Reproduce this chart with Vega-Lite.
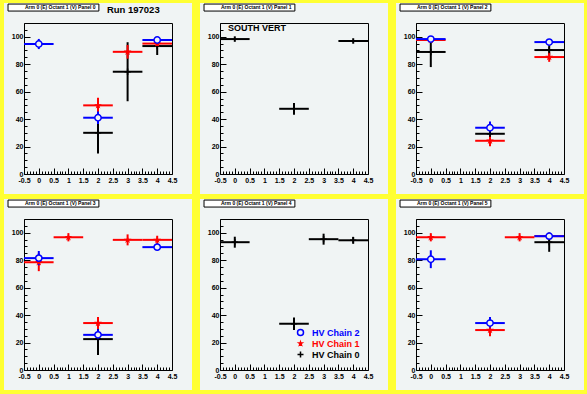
{
  "$schema": "https://vega.github.io/schema/vega-lite/v6.json",
  "background": "#ffff33",
  "padding": {"left": -13, "top": -17, "right": 5, "bottom": 10},
  "datasets": {
    "pts": [
      {"panel": 0, "series": "HV Chain 0", "x": 2, "xlo": 1.5, "xhi": 2.5, "y": 30, "ylo": 15, "yhi": 45},
      {"panel": 0, "series": "HV Chain 0", "x": 3, "xlo": 2.5, "xhi": 3.5, "y": 74.5, "ylo": 53, "yhi": 96},
      {"panel": 0, "series": "HV Chain 0", "x": 4, "xlo": 3.5, "xhi": 4.5, "y": 93.2, "ylo": 86.7, "yhi": 99.7},
      {"panel": 0, "series": "HV Chain 1", "x": 2, "xlo": 1.5, "xhi": 2.5, "y": 50, "ylo": 45, "yhi": 55.5},
      {"panel": 0, "series": "HV Chain 1", "x": 3, "xlo": 2.5, "xhi": 3.5, "y": 89, "ylo": 84, "yhi": 94},
      {"panel": 0, "series": "HV Chain 1", "x": 4, "xlo": 3.5, "xhi": 4.5, "y": 95, "ylo": 93.5, "yhi": 96.5},
      {"panel": 0, "series": "HV Chain 2", "x": 0, "xlo": -0.5, "xhi": 0.5, "y": 94.7, "ylo": 91, "yhi": 98.4},
      {"panel": 0, "series": "HV Chain 2", "x": 2, "xlo": 1.5, "xhi": 2.5, "y": 41, "ylo": 36.5, "yhi": 45.5},
      {"panel": 0, "series": "HV Chain 2", "x": 4, "xlo": 3.5, "xhi": 4.5, "y": 97.6, "ylo": 95.9, "yhi": 99.3},

      {"panel": 1, "series": "HV Chain 0", "x": 0, "xlo": -0.5, "xhi": 0.5, "y": 98.3, "ylo": 96.3, "yhi": 100.3},
      {"panel": 1, "series": "HV Chain 0", "x": 2, "xlo": 1.5, "xhi": 2.5, "y": 47.5, "ylo": 43.2, "yhi": 51.8},
      {"panel": 1, "series": "HV Chain 0", "x": 4, "xlo": 3.5, "xhi": 4.5, "y": 96.9, "ylo": 94.9, "yhi": 98.9},

      {"panel": 2, "series": "HV Chain 0", "x": 0, "xlo": -0.5, "xhi": 0.5, "y": 88.9, "ylo": 77.9, "yhi": 99.9},
      {"panel": 2, "series": "HV Chain 0", "x": 2, "xlo": 1.5, "xhi": 2.5, "y": 29.3, "ylo": 27, "yhi": 31.6},
      {"panel": 2, "series": "HV Chain 0", "x": 4, "xlo": 3.5, "xhi": 4.5, "y": 90.3, "ylo": 86.3, "yhi": 94.3},
      {"panel": 2, "series": "HV Chain 1", "x": 0, "xlo": -0.5, "xhi": 0.5, "y": 97.6, "ylo": 96.1, "yhi": 99.1},
      {"panel": 2, "series": "HV Chain 1", "x": 2, "xlo": 1.5, "xhi": 2.5, "y": 24.2, "ylo": 20.2, "yhi": 28.2},
      {"panel": 2, "series": "HV Chain 1", "x": 4, "xlo": 3.5, "xhi": 4.5, "y": 85.2, "ylo": 81.7, "yhi": 88.7},
      {"panel": 2, "series": "HV Chain 2", "x": 0, "xlo": -0.5, "xhi": 0.5, "y": 98.3, "ylo": 96.3, "yhi": 100.3},
      {"panel": 2, "series": "HV Chain 2", "x": 2, "xlo": 1.5, "xhi": 2.5, "y": 33.7, "ylo": 29.1, "yhi": 38.3},
      {"panel": 2, "series": "HV Chain 2", "x": 4, "xlo": 3.5, "xhi": 4.5, "y": 96.1, "ylo": 94.1, "yhi": 98.1},

      {"panel": 3, "series": "HV Chain 0", "x": 2, "xlo": 1.5, "xhi": 2.5, "y": 22.5, "ylo": 11, "yhi": 34},
      {"panel": 3, "series": "HV Chain 1", "x": 0, "xlo": -0.5, "xhi": 0.5, "y": 78.5, "ylo": 72, "yhi": 85},
      {"panel": 3, "series": "HV Chain 1", "x": 1, "xlo": 0.5, "xhi": 1.5, "y": 96.7, "ylo": 93.7, "yhi": 99.7},
      {"panel": 3, "series": "HV Chain 1", "x": 2, "xlo": 1.5, "xhi": 2.5, "y": 34.2, "ylo": 29.7, "yhi": 38.7},
      {"panel": 3, "series": "HV Chain 1", "x": 3, "xlo": 2.5, "xhi": 3.5, "y": 94.8, "ylo": 90.8, "yhi": 98.8},
      {"panel": 3, "series": "HV Chain 1", "x": 4, "xlo": 3.5, "xhi": 4.5, "y": 94.8, "ylo": 91.8, "yhi": 97.8},
      {"panel": 3, "series": "HV Chain 2", "x": 0, "xlo": -0.5, "xhi": 0.5, "y": 81.5, "ylo": 76.3, "yhi": 86.7},
      {"panel": 3, "series": "HV Chain 2", "x": 2, "xlo": 1.5, "xhi": 2.5, "y": 25.6, "ylo": 21.6, "yhi": 29.6},
      {"panel": 3, "series": "HV Chain 2", "x": 4, "xlo": 3.5, "xhi": 4.5, "y": 89.5, "ylo": 87.5, "yhi": 91.5},

      {"panel": 4, "series": "HV Chain 0", "x": 0, "xlo": -0.5, "xhi": 0.5, "y": 93.1, "ylo": 89.1, "yhi": 97.1},
      {"panel": 4, "series": "HV Chain 0", "x": 2, "xlo": 1.5, "xhi": 2.5, "y": 33.7, "ylo": 29.2, "yhi": 38.2},
      {"panel": 4, "series": "HV Chain 0", "x": 3, "xlo": 2.5, "xhi": 3.5, "y": 95.3, "ylo": 91.3, "yhi": 99.3},
      {"panel": 4, "series": "HV Chain 0", "x": 4, "xlo": 3.5, "xhi": 4.5, "y": 94.5, "ylo": 92, "yhi": 97},

      {"panel": 5, "series": "HV Chain 0", "x": 4, "xlo": 3.5, "xhi": 4.5, "y": 93.1, "ylo": 86.1, "yhi": 100.1},
      {"panel": 5, "series": "HV Chain 1", "x": 0, "xlo": -0.5, "xhi": 0.5, "y": 96.7, "ylo": 93.7, "yhi": 99.7},
      {"panel": 5, "series": "HV Chain 1", "x": 2, "xlo": 1.5, "xhi": 2.5, "y": 29.1, "ylo": 24.6, "yhi": 33.6},
      {"panel": 5, "series": "HV Chain 1", "x": 3, "xlo": 2.5, "xhi": 3.5, "y": 96.7, "ylo": 93.7, "yhi": 99.7},
      {"panel": 5, "series": "HV Chain 1", "x": 4, "xlo": 3.5, "xhi": 4.5, "y": 97.5, "ylo": 96, "yhi": 99},
      {"panel": 5, "series": "HV Chain 2", "x": 0, "xlo": -0.5, "xhi": 0.5, "y": 80.7, "ylo": 74.2, "yhi": 87.2},
      {"panel": 5, "series": "HV Chain 2", "x": 2, "xlo": 1.5, "xhi": 2.5, "y": 34.2, "ylo": 29.7, "yhi": 38.7},
      {"panel": 5, "series": "HV Chain 2", "x": 4, "xlo": 3.5, "xhi": 4.5, "y": 97.5, "ylo": 96, "yhi": 99}
    ]
  },
  "columns": 3,
  "spacing": {"row": 45, "column": 48},
  "bounds": "flush",
  "resolve": {"legend": {"color": "independent", "shape": "independent"}},
  "concat": [
    {
      "width": 148, "height": 151,
      "data": {"name": "pts"},
      "layer": [
        {"transform": [{"filter": "datum.panel == 0"}], "mark": {"type": "rule", "strokeWidth": 2},
         "encoding": {
          "x": {"field": "xlo", "type": "quantitative", "scale": {"domain": [-0.5, 4.5], "nice": false, "zero": false}, "axis": {"orient": "bottom", "title": null, "values": [-0.5,-0.4,-0.3,-0.2,-0.1,0,0.1,0.2,0.3,0.4,0.5,0.6,0.7,0.8,0.9,1,1.1,1.2,1.3,1.4,1.5,1.6,1.7,1.8,1.9,2,2.1,2.2,2.3,2.4,2.5,2.6,2.7,2.8,2.9,3,3.1,3.2,3.3,3.4,3.5,3.6,3.7,3.8,3.9,4,4.1,4.2,4.3,4.4,4.5], "labelExpr": "abs(datum.value*2-round(datum.value*2))<0.01 ? toString(round(datum.value*10)/10) : ''", "labelOverlap": false, "labelFlush": false, "tickSize": {"condition": {"test": "abs(datum.value*2-round(datum.value*2))<0.01", "value": -6}, "value": -3}, "labelPadding": 8}},
          "x2": {"field": "xhi"},
          "y": {"field": "y", "type": "quantitative", "scale": {"domain": [0, 110], "nice": false, "zero": false}, "axis": {"orient": "left", "title": null, "values": [0,5,10,15,20,25,30,35,40,45,50,55,60,65,70,75,80,85,90,95,100,105,110], "labelExpr": "datum.value % 20 == 0 && datum.value <= 100 ? toString(datum.value) : ''", "labelOverlap": false, "labelFlush": false, "tickSize": {"condition": {"test": "datum.value % 20 == 0", "value": -6}, "value": -3}, "labelPadding": 7}},
          "color": {"field": "series", "type": "nominal", "scale": {"domain": ["HV Chain 2", "HV Chain 1", "HV Chain 0"], "range": ["#0000ff", "#ff0000", "#000000"]}, "legend": null}
         }},
        {"transform": [{"filter": "datum.panel == 0"}], "mark": {"type": "rule", "strokeWidth": 2},
         "encoding": {
          "x": {"field": "x", "type": "quantitative", "axis": {"orient": "top", "title": null, "ticks": false, "labels": false}},
          "y": {"field": "ylo", "type": "quantitative", "axis": {"orient": "right", "title": null, "ticks": false, "labels": false}},
          "y2": {"field": "yhi"},
          "color": {"field": "series", "type": "nominal", "legend": null}
         }},
        {"transform": [{"filter": "datum.panel == 0"}], "mark": {"type": "point", "filled": false, "fill": "#f0f4f4", "size": 40, "strokeWidth": 1.5, "opacity": 1},
         "encoding": {
          "x": {"field": "x", "type": "quantitative", "axis": null},
          "y": {"field": "y", "type": "quantitative", "axis": null},
          "color": {"field": "series", "type": "nominal", "legend": null},
          "shape": {"field": "series", "type": "nominal", "scale": {"domain": ["HV Chain 2", "HV Chain 1", "HV Chain 0"], "range": ["circle", "M0,-0.5L0.11,-0.15L0.48,-0.15L0.18,0.06L0.29,0.4L0,0.19L-0.29,0.4L-0.18,0.06L-0.48,-0.15L-0.11,-0.15Z", "M-1,0H1M0,-1V1"]}, "legend": null}
         }},
        {"data": {"values": [{"label": "Arm 0 (E) Octant 1 (V) Panel 0"}]}, "mark": {"type": "rect", "fill": "#ffffff", "stroke": "#000000", "strokeWidth": 1},
         "encoding": {"x": {"datum": -1.04, "type": "quantitative", "axis": null}, "x2": {"datum": 2.03}, "y": {"datum": 123.8, "type": "quantitative", "axis": null}, "y2": {"datum": 118.7}}},
        {"data": {"values": [{"label": "Arm 0 (E) Octant 1 (V) Panel 0"}]}, "mark": {"type": "text", "align": "left", "baseline": "middle", "fontSize": 5, "fontWeight": "bold", "font": "Liberation Sans", "color": "#000000"},
         "encoding": {"x": {"datum": -0.466, "type": "quantitative", "axis": null}, "y": {"datum": 121.3, "type": "quantitative", "axis": null}, "text": {"field": "label"}}},
        {"data": {"values": [{"label": "Run 197023"}]}, "mark": {"type": "text", "align": "left", "baseline": "middle", "fontSize": 9.5, "fontWeight": "bold", "font": "Liberation Sans", "color": "#000000"},
         "encoding": {
          "x": {"datum": 2.3, "type": "quantitative", "axis": null},
          "y": {"datum": 119.5, "type": "quantitative", "axis": null},
          "text": {"field": "label"}
         }}
      ],
      "resolve": {"axis": {"x": "independent", "y": "independent"}}
    },
    {
      "width": 148, "height": 151,
      "data": {"name": "pts"},
      "layer": [
        {"transform": [{"filter": "datum.panel == 1"}], "mark": {"type": "rule", "strokeWidth": 2},
         "encoding": {
          "x": {"field": "xlo", "type": "quantitative", "scale": {"domain": [-0.5, 4.5], "nice": false, "zero": false}, "axis": {"orient": "bottom", "title": null, "values": [-0.5,-0.4,-0.3,-0.2,-0.1,0,0.1,0.2,0.3,0.4,0.5,0.6,0.7,0.8,0.9,1,1.1,1.2,1.3,1.4,1.5,1.6,1.7,1.8,1.9,2,2.1,2.2,2.3,2.4,2.5,2.6,2.7,2.8,2.9,3,3.1,3.2,3.3,3.4,3.5,3.6,3.7,3.8,3.9,4,4.1,4.2,4.3,4.4,4.5], "labelExpr": "abs(datum.value*2-round(datum.value*2))<0.01 ? toString(round(datum.value*10)/10) : ''", "labelOverlap": false, "labelFlush": false, "tickSize": {"condition": {"test": "abs(datum.value*2-round(datum.value*2))<0.01", "value": -6}, "value": -3}, "labelPadding": 8}},
          "x2": {"field": "xhi"},
          "y": {"field": "y", "type": "quantitative", "scale": {"domain": [0, 110], "nice": false, "zero": false}, "axis": {"orient": "left", "title": null, "values": [0,5,10,15,20,25,30,35,40,45,50,55,60,65,70,75,80,85,90,95,100,105,110], "labelExpr": "datum.value % 20 == 0 && datum.value <= 100 ? toString(datum.value) : ''", "labelOverlap": false, "labelFlush": false, "tickSize": {"condition": {"test": "datum.value % 20 == 0", "value": -6}, "value": -3}, "labelPadding": 7}},
          "color": {"field": "series", "type": "nominal", "scale": {"domain": ["HV Chain 2", "HV Chain 1", "HV Chain 0"], "range": ["#0000ff", "#ff0000", "#000000"]}, "legend": null}
         }},
        {"transform": [{"filter": "datum.panel == 1"}], "mark": {"type": "rule", "strokeWidth": 2},
         "encoding": {
          "x": {"field": "x", "type": "quantitative", "axis": {"orient": "top", "title": null, "ticks": false, "labels": false}},
          "y": {"field": "ylo", "type": "quantitative", "axis": {"orient": "right", "title": null, "ticks": false, "labels": false}},
          "y2": {"field": "yhi"},
          "color": {"field": "series", "type": "nominal", "legend": null}
         }},
        {"data": {"values": [{"label": "Arm 0 (E) Octant 1 (V) Panel 1"}]}, "mark": {"type": "rect", "fill": "#ffffff", "stroke": "#000000", "strokeWidth": 1},
         "encoding": {"x": {"datum": -1.04, "type": "quantitative", "axis": null}, "x2": {"datum": 2.03}, "y": {"datum": 123.8, "type": "quantitative", "axis": null}, "y2": {"datum": 118.7}}},
        {"data": {"values": [{"label": "Arm 0 (E) Octant 1 (V) Panel 1"}]}, "mark": {"type": "text", "align": "left", "baseline": "middle", "fontSize": 5, "fontWeight": "bold", "font": "Liberation Sans", "color": "#000000"},
         "encoding": {"x": {"datum": -0.466, "type": "quantitative", "axis": null}, "y": {"datum": 121.3, "type": "quantitative", "axis": null}, "text": {"field": "label"}}},
        {"data": {"values": [{"label": "SOUTH VERT"}]}, "mark": {"type": "text", "align": "left", "baseline": "middle", "fontSize": 9, "fontWeight": "bold", "font": "Liberation Sans", "color": "#000000"},
         "encoding": {
          "x": {"datum": -0.23, "type": "quantitative", "axis": null},
          "y": {"datum": 106, "type": "quantitative", "axis": null},
          "text": {"field": "label"}
         }}
      ],
      "resolve": {"axis": {"x": "independent", "y": "independent"}}
    },
    {
      "width": 148, "height": 151,
      "data": {"name": "pts"},
      "layer": [
        {"transform": [{"filter": "datum.panel == 2"}], "mark": {"type": "rule", "strokeWidth": 2},
         "encoding": {
          "x": {"field": "xlo", "type": "quantitative", "scale": {"domain": [-0.5, 4.5], "nice": false, "zero": false}, "axis": {"orient": "bottom", "title": null, "values": [-0.5,-0.4,-0.3,-0.2,-0.1,0,0.1,0.2,0.3,0.4,0.5,0.6,0.7,0.8,0.9,1,1.1,1.2,1.3,1.4,1.5,1.6,1.7,1.8,1.9,2,2.1,2.2,2.3,2.4,2.5,2.6,2.7,2.8,2.9,3,3.1,3.2,3.3,3.4,3.5,3.6,3.7,3.8,3.9,4,4.1,4.2,4.3,4.4,4.5], "labelExpr": "abs(datum.value*2-round(datum.value*2))<0.01 ? toString(round(datum.value*10)/10) : ''", "labelOverlap": false, "labelFlush": false, "tickSize": {"condition": {"test": "abs(datum.value*2-round(datum.value*2))<0.01", "value": -6}, "value": -3}, "labelPadding": 8}},
          "x2": {"field": "xhi"},
          "y": {"field": "y", "type": "quantitative", "scale": {"domain": [0, 110], "nice": false, "zero": false}, "axis": {"orient": "left", "title": null, "values": [0,5,10,15,20,25,30,35,40,45,50,55,60,65,70,75,80,85,90,95,100,105,110], "labelExpr": "datum.value % 20 == 0 && datum.value <= 100 ? toString(datum.value) : ''", "labelOverlap": false, "labelFlush": false, "tickSize": {"condition": {"test": "datum.value % 20 == 0", "value": -6}, "value": -3}, "labelPadding": 7}},
          "color": {"field": "series", "type": "nominal", "scale": {"domain": ["HV Chain 2", "HV Chain 1", "HV Chain 0"], "range": ["#0000ff", "#ff0000", "#000000"]}, "legend": null}
         }},
        {"transform": [{"filter": "datum.panel == 2"}], "mark": {"type": "rule", "strokeWidth": 2},
         "encoding": {
          "x": {"field": "x", "type": "quantitative", "axis": {"orient": "top", "title": null, "ticks": false, "labels": false}},
          "y": {"field": "ylo", "type": "quantitative", "axis": {"orient": "right", "title": null, "ticks": false, "labels": false}},
          "y2": {"field": "yhi"},
          "color": {"field": "series", "type": "nominal", "legend": null}
         }},
        {"transform": [{"filter": "datum.panel == 2"}], "mark": {"type": "point", "filled": false, "fill": "#f0f4f4", "size": 40, "strokeWidth": 1.5, "opacity": 1},
         "encoding": {
          "x": {"field": "x", "type": "quantitative", "axis": null},
          "y": {"field": "y", "type": "quantitative", "axis": null},
          "color": {"field": "series", "type": "nominal", "legend": null},
          "shape": {"field": "series", "type": "nominal", "scale": {"domain": ["HV Chain 2", "HV Chain 1", "HV Chain 0"], "range": ["circle", "M0,-0.5L0.11,-0.15L0.48,-0.15L0.18,0.06L0.29,0.4L0,0.19L-0.29,0.4L-0.18,0.06L-0.48,-0.15L-0.11,-0.15Z", "M-1,0H1M0,-1V1"]}, "legend": null}
         }},
        {"data": {"values": [{"label": "Arm 0 (E) Octant 1 (V) Panel 2"}]}, "mark": {"type": "rect", "fill": "#ffffff", "stroke": "#000000", "strokeWidth": 1},
         "encoding": {"x": {"datum": -1.04, "type": "quantitative", "axis": null}, "x2": {"datum": 2.03}, "y": {"datum": 123.8, "type": "quantitative", "axis": null}, "y2": {"datum": 118.7}}},
        {"data": {"values": [{"label": "Arm 0 (E) Octant 1 (V) Panel 2"}]}, "mark": {"type": "text", "align": "left", "baseline": "middle", "fontSize": 5, "fontWeight": "bold", "font": "Liberation Sans", "color": "#000000"},
         "encoding": {"x": {"datum": -0.466, "type": "quantitative", "axis": null}, "y": {"datum": 121.3, "type": "quantitative", "axis": null}, "text": {"field": "label"}}}
      ],
      "resolve": {"axis": {"x": "independent", "y": "independent"}}
    },
    {
      "width": 148, "height": 151,
      "data": {"name": "pts"},
      "layer": [
        {"transform": [{"filter": "datum.panel == 3"}], "mark": {"type": "rule", "strokeWidth": 2},
         "encoding": {
          "x": {"field": "xlo", "type": "quantitative", "scale": {"domain": [-0.5, 4.5], "nice": false, "zero": false}, "axis": {"orient": "bottom", "title": null, "values": [-0.5,-0.4,-0.3,-0.2,-0.1,0,0.1,0.2,0.3,0.4,0.5,0.6,0.7,0.8,0.9,1,1.1,1.2,1.3,1.4,1.5,1.6,1.7,1.8,1.9,2,2.1,2.2,2.3,2.4,2.5,2.6,2.7,2.8,2.9,3,3.1,3.2,3.3,3.4,3.5,3.6,3.7,3.8,3.9,4,4.1,4.2,4.3,4.4,4.5], "labelExpr": "abs(datum.value*2-round(datum.value*2))<0.01 ? toString(round(datum.value*10)/10) : ''", "labelOverlap": false, "labelFlush": false, "tickSize": {"condition": {"test": "abs(datum.value*2-round(datum.value*2))<0.01", "value": -6}, "value": -3}, "labelPadding": 8}},
          "x2": {"field": "xhi"},
          "y": {"field": "y", "type": "quantitative", "scale": {"domain": [0, 110], "nice": false, "zero": false}, "axis": {"orient": "left", "title": null, "values": [0,5,10,15,20,25,30,35,40,45,50,55,60,65,70,75,80,85,90,95,100,105,110], "labelExpr": "datum.value % 20 == 0 && datum.value <= 100 ? toString(datum.value) : ''", "labelOverlap": false, "labelFlush": false, "tickSize": {"condition": {"test": "datum.value % 20 == 0", "value": -6}, "value": -3}, "labelPadding": 7}},
          "color": {"field": "series", "type": "nominal", "scale": {"domain": ["HV Chain 2", "HV Chain 1", "HV Chain 0"], "range": ["#0000ff", "#ff0000", "#000000"]}, "legend": null}
         }},
        {"transform": [{"filter": "datum.panel == 3"}], "mark": {"type": "rule", "strokeWidth": 2},
         "encoding": {
          "x": {"field": "x", "type": "quantitative", "axis": {"orient": "top", "title": null, "ticks": false, "labels": false}},
          "y": {"field": "ylo", "type": "quantitative", "axis": {"orient": "right", "title": null, "ticks": false, "labels": false}},
          "y2": {"field": "yhi"},
          "color": {"field": "series", "type": "nominal", "legend": null}
         }},
        {"transform": [{"filter": "datum.panel == 3"}], "mark": {"type": "point", "filled": false, "fill": "#f0f4f4", "size": 40, "strokeWidth": 1.5, "opacity": 1},
         "encoding": {
          "x": {"field": "x", "type": "quantitative", "axis": null},
          "y": {"field": "y", "type": "quantitative", "axis": null},
          "color": {"field": "series", "type": "nominal", "legend": null},
          "shape": {"field": "series", "type": "nominal", "scale": {"domain": ["HV Chain 2", "HV Chain 1", "HV Chain 0"], "range": ["circle", "M0,-0.5L0.11,-0.15L0.48,-0.15L0.18,0.06L0.29,0.4L0,0.19L-0.29,0.4L-0.18,0.06L-0.48,-0.15L-0.11,-0.15Z", "M-1,0H1M0,-1V1"]}, "legend": null}
         }},
        {"data": {"values": [{"label": "Arm 0 (E) Octant 1 (V) Panel 3"}]}, "mark": {"type": "rect", "fill": "#ffffff", "stroke": "#000000", "strokeWidth": 1},
         "encoding": {"x": {"datum": -1.04, "type": "quantitative", "axis": null}, "x2": {"datum": 2.03}, "y": {"datum": 123.8, "type": "quantitative", "axis": null}, "y2": {"datum": 118.7}}},
        {"data": {"values": [{"label": "Arm 0 (E) Octant 1 (V) Panel 3"}]}, "mark": {"type": "text", "align": "left", "baseline": "middle", "fontSize": 5, "fontWeight": "bold", "font": "Liberation Sans", "color": "#000000"},
         "encoding": {"x": {"datum": -0.466, "type": "quantitative", "axis": null}, "y": {"datum": 121.3, "type": "quantitative", "axis": null}, "text": {"field": "label"}}}
      ],
      "resolve": {"axis": {"x": "independent", "y": "independent"}}
    },
    {
      "width": 148, "height": 151,
      "data": {"name": "pts"},
      "layer": [
        {"transform": [{"filter": "datum.panel == 4"}], "mark": {"type": "rule", "strokeWidth": 2},
         "encoding": {
          "x": {"field": "xlo", "type": "quantitative", "scale": {"domain": [-0.5, 4.5], "nice": false, "zero": false}, "axis": {"orient": "bottom", "title": null, "values": [-0.5,-0.4,-0.3,-0.2,-0.1,0,0.1,0.2,0.3,0.4,0.5,0.6,0.7,0.8,0.9,1,1.1,1.2,1.3,1.4,1.5,1.6,1.7,1.8,1.9,2,2.1,2.2,2.3,2.4,2.5,2.6,2.7,2.8,2.9,3,3.1,3.2,3.3,3.4,3.5,3.6,3.7,3.8,3.9,4,4.1,4.2,4.3,4.4,4.5], "labelExpr": "abs(datum.value*2-round(datum.value*2))<0.01 ? toString(round(datum.value*10)/10) : ''", "labelOverlap": false, "labelFlush": false, "tickSize": {"condition": {"test": "abs(datum.value*2-round(datum.value*2))<0.01", "value": -6}, "value": -3}, "labelPadding": 8}},
          "x2": {"field": "xhi"},
          "y": {"field": "y", "type": "quantitative", "scale": {"domain": [0, 110], "nice": false, "zero": false}, "axis": {"orient": "left", "title": null, "values": [0,5,10,15,20,25,30,35,40,45,50,55,60,65,70,75,80,85,90,95,100,105,110], "labelExpr": "datum.value % 20 == 0 && datum.value <= 100 ? toString(datum.value) : ''", "labelOverlap": false, "labelFlush": false, "tickSize": {"condition": {"test": "datum.value % 20 == 0", "value": -6}, "value": -3}, "labelPadding": 7}},
          "color": {"field": "series", "type": "nominal", "scale": {"domain": ["HV Chain 2", "HV Chain 1", "HV Chain 0"], "range": ["#0000ff", "#ff0000", "#000000"]}, "legend": {"orient": "none", "legendX": 76, "legendY": 109, "title": null, "padding": 0, "labelFont": "Liberation Sans", "labelFontSize": 9, "labelFontWeight": "bold", "symbolSize": 36, "symbolStrokeWidth": 1.5, "symbolFillColor": "#f0f4f4", "rowPadding": -1, "labelOffset": 7, "encode": {"labels": {"update": {"fill": {"signal": "datum.value === 'HV Chain 2' ? '#0000ff' : datum.value === 'HV Chain 1' ? '#ff0000' : '#000000'"}}}}}}
         }},
        {"transform": [{"filter": "datum.panel == 4"}], "mark": {"type": "rule", "strokeWidth": 2},
         "encoding": {
          "x": {"field": "x", "type": "quantitative", "axis": {"orient": "top", "title": null, "ticks": false, "labels": false}},
          "y": {"field": "ylo", "type": "quantitative", "axis": {"orient": "right", "title": null, "ticks": false, "labels": false}},
          "y2": {"field": "yhi"},
          "color": {"field": "series", "type": "nominal"}
         }},
        {"transform": [{"filter": "datum.panel == 4"}], "mark": {"type": "point", "filled": false, "fill": "#f0f4f4", "size": 40, "strokeWidth": 1.5, "opacity": 1},
         "encoding": {
          "x": {"field": "x", "type": "quantitative", "axis": null},
          "y": {"field": "y", "type": "quantitative", "axis": null},
          "color": {"field": "series", "type": "nominal"},
          "shape": {"field": "series", "type": "nominal", "scale": {"domain": ["HV Chain 2", "HV Chain 1", "HV Chain 0"], "range": ["circle", "M0,-0.5L0.11,-0.15L0.48,-0.15L0.18,0.06L0.29,0.4L0,0.19L-0.29,0.4L-0.18,0.06L-0.48,-0.15L-0.11,-0.15Z", "M-1,0H1M0,-1V1"]}, "legend": {"orient": "none", "legendX": 76, "legendY": 109, "title": null, "padding": 0, "labelFont": "Liberation Sans", "labelFontSize": 9, "labelFontWeight": "bold", "symbolSize": 36, "symbolStrokeWidth": 1.5, "symbolFillColor": "#f0f4f4", "rowPadding": -1, "labelOffset": 7, "encode": {"labels": {"update": {"fill": {"signal": "datum.value === 'HV Chain 2' ? '#0000ff' : datum.value === 'HV Chain 1' ? '#ff0000' : '#000000'"}}}}}}
         }},
        {"data": {"values": [{"label": "Arm 0 (E) Octant 1 (V) Panel 4"}]}, "mark": {"type": "rect", "fill": "#ffffff", "stroke": "#000000", "strokeWidth": 1},
         "encoding": {"x": {"datum": -1.04, "type": "quantitative", "axis": null}, "x2": {"datum": 2.03}, "y": {"datum": 123.8, "type": "quantitative", "axis": null}, "y2": {"datum": 118.7}}},
        {"data": {"values": [{"label": "Arm 0 (E) Octant 1 (V) Panel 4"}]}, "mark": {"type": "text", "align": "left", "baseline": "middle", "fontSize": 5, "fontWeight": "bold", "font": "Liberation Sans", "color": "#000000"},
         "encoding": {"x": {"datum": -0.466, "type": "quantitative", "axis": null}, "y": {"datum": 121.3, "type": "quantitative", "axis": null}, "text": {"field": "label"}}}
      ],
      "resolve": {"axis": {"x": "independent", "y": "independent"}}
    },
    {
      "width": 148, "height": 151,
      "data": {"name": "pts"},
      "layer": [
        {"transform": [{"filter": "datum.panel == 5"}], "mark": {"type": "rule", "strokeWidth": 2},
         "encoding": {
          "x": {"field": "xlo", "type": "quantitative", "scale": {"domain": [-0.5, 4.5], "nice": false, "zero": false}, "axis": {"orient": "bottom", "title": null, "values": [-0.5,-0.4,-0.3,-0.2,-0.1,0,0.1,0.2,0.3,0.4,0.5,0.6,0.7,0.8,0.9,1,1.1,1.2,1.3,1.4,1.5,1.6,1.7,1.8,1.9,2,2.1,2.2,2.3,2.4,2.5,2.6,2.7,2.8,2.9,3,3.1,3.2,3.3,3.4,3.5,3.6,3.7,3.8,3.9,4,4.1,4.2,4.3,4.4,4.5], "labelExpr": "abs(datum.value*2-round(datum.value*2))<0.01 ? toString(round(datum.value*10)/10) : ''", "labelOverlap": false, "labelFlush": false, "tickSize": {"condition": {"test": "abs(datum.value*2-round(datum.value*2))<0.01", "value": -6}, "value": -3}, "labelPadding": 8}},
          "x2": {"field": "xhi"},
          "y": {"field": "y", "type": "quantitative", "scale": {"domain": [0, 110], "nice": false, "zero": false}, "axis": {"orient": "left", "title": null, "values": [0,5,10,15,20,25,30,35,40,45,50,55,60,65,70,75,80,85,90,95,100,105,110], "labelExpr": "datum.value % 20 == 0 && datum.value <= 100 ? toString(datum.value) : ''", "labelOverlap": false, "labelFlush": false, "tickSize": {"condition": {"test": "datum.value % 20 == 0", "value": -6}, "value": -3}, "labelPadding": 7}},
          "color": {"field": "series", "type": "nominal", "scale": {"domain": ["HV Chain 2", "HV Chain 1", "HV Chain 0"], "range": ["#0000ff", "#ff0000", "#000000"]}, "legend": null}
         }},
        {"transform": [{"filter": "datum.panel == 5"}], "mark": {"type": "rule", "strokeWidth": 2},
         "encoding": {
          "x": {"field": "x", "type": "quantitative", "axis": {"orient": "top", "title": null, "ticks": false, "labels": false}},
          "y": {"field": "ylo", "type": "quantitative", "axis": {"orient": "right", "title": null, "ticks": false, "labels": false}},
          "y2": {"field": "yhi"},
          "color": {"field": "series", "type": "nominal", "legend": null}
         }},
        {"transform": [{"filter": "datum.panel == 5"}], "mark": {"type": "point", "filled": false, "fill": "#f0f4f4", "size": 40, "strokeWidth": 1.5, "opacity": 1},
         "encoding": {
          "x": {"field": "x", "type": "quantitative", "axis": null},
          "y": {"field": "y", "type": "quantitative", "axis": null},
          "color": {"field": "series", "type": "nominal", "legend": null},
          "shape": {"field": "series", "type": "nominal", "scale": {"domain": ["HV Chain 2", "HV Chain 1", "HV Chain 0"], "range": ["circle", "M0,-0.5L0.11,-0.15L0.48,-0.15L0.18,0.06L0.29,0.4L0,0.19L-0.29,0.4L-0.18,0.06L-0.48,-0.15L-0.11,-0.15Z", "M-1,0H1M0,-1V1"]}, "legend": null}
         }},
        {"data": {"values": [{"label": "Arm 0 (E) Octant 1 (V) Panel 5"}]}, "mark": {"type": "rect", "fill": "#ffffff", "stroke": "#000000", "strokeWidth": 1},
         "encoding": {"x": {"datum": -1.04, "type": "quantitative", "axis": null}, "x2": {"datum": 2.03}, "y": {"datum": 123.8, "type": "quantitative", "axis": null}, "y2": {"datum": 118.7}}},
        {"data": {"values": [{"label": "Arm 0 (E) Octant 1 (V) Panel 5"}]}, "mark": {"type": "text", "align": "left", "baseline": "middle", "fontSize": 5, "fontWeight": "bold", "font": "Liberation Sans", "color": "#000000"},
         "encoding": {"x": {"datum": -0.466, "type": "quantitative", "axis": null}, "y": {"datum": 121.3, "type": "quantitative", "axis": null}, "text": {"field": "label"}}}
      ],
      "resolve": {"axis": {"x": "independent", "y": "independent"}}
    }
  ],
  "config": {
    "view": {"fill": "#f0f4f4", "stroke": "#f0f4f4", "strokeWidth": 40},
    "axis": {"domainColor": "#000000", "domainWidth": 1, "tickColor": "#000000", "tickWidth": 1, "labelColor": "#000000", "labelFont": "Liberation Sans", "labelFontSize": 7, "labelFontWeight": "bold", "grid": false}
  }
}
